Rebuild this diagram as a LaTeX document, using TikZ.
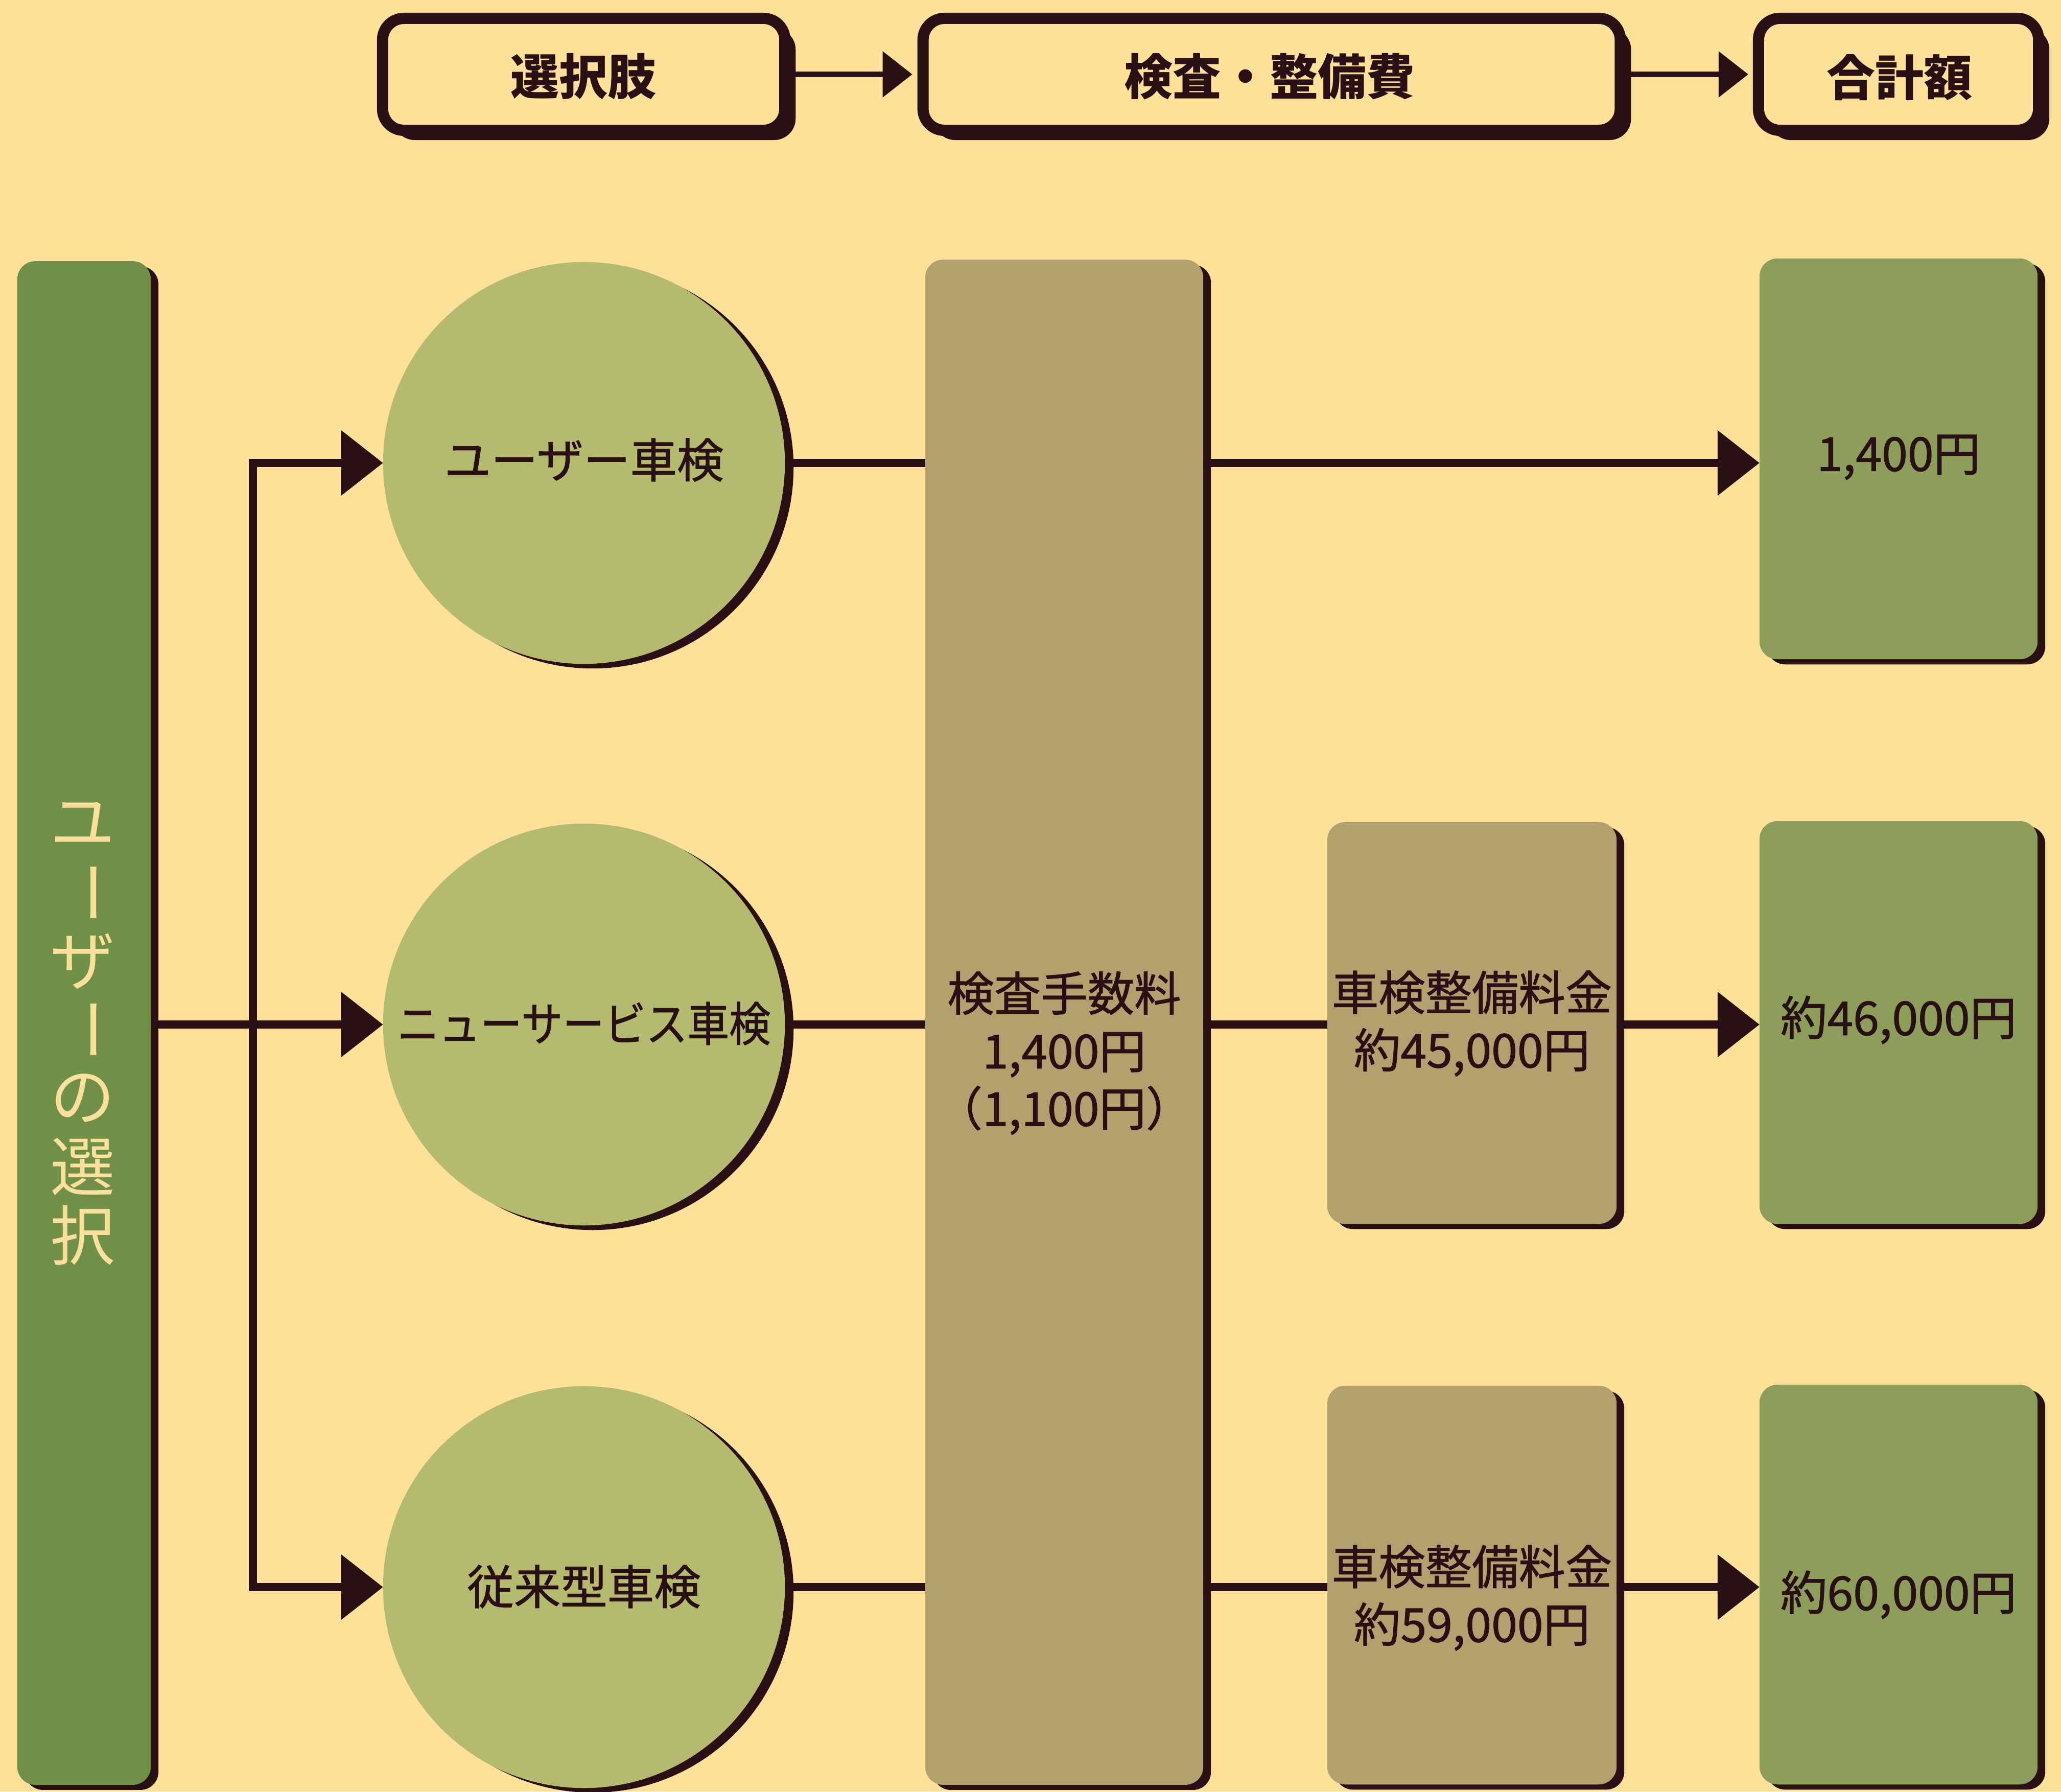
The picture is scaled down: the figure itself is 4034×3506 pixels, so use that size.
\documentclass[tikz,border=0pt]{standalone}
\usepackage{fontspec}
\setmainfont{Noto Sans CJK JP}
\newfontfamily\jpmed{Noto Sans CJK JP}[FakeBold=1.2]
\usetikzlibrary{arrows.meta,shadows}
\definecolor{bg}{RGB}{254,224,152}
\definecolor{dk}{RGB}{40,16,20}
\definecolor{barg}{RGB}{112,144,72}
\definecolor{circg}{RGB}{180,187,110}
\definecolor{feeC}{RGB}{178,161,110}
\definecolor{totg}{RGB}{141,158,90}
\definecolor{vtxt}{RGB}{250,224,156}
\tikzset{
  shadowed/.style={drop shadow={shadow xshift=0.15cm, shadow yshift=-0.1cm, fill=dk, opacity=1}},
  card/.style={rectangle, rounded corners=0.35cm, inner sep=0, outer sep=0, shadowed},
  hdr/.style={rectangle, rounded corners=0.42cm, draw=dk, line width=0.22cm, fill=bg,
    minimum height=2.19cm, inner sep=0, outer sep=0,
    drop shadow={shadow xshift=0.21cm, shadow yshift=-0.19cm, fill=dk, opacity=1}},
  choice/.style={circle, fill=circg, minimum size=7.86cm, inner sep=0, outer sep=0,
    drop shadow={shadow xshift=0.17cm, shadow yshift=-0.09cm, fill=dk, opacity=1}},
  conn/.style={draw=dk, line width=0.16cm},
  hconn/.style={draw=dk, line width=0.1cm},
  bigtip/.style={-{Triangle[length=0.82cm,width=1.24cm]}},
  bothtip/.style={{Triangle[length=0.82cm,width=1.24cm]}-{Triangle[length=0.82cm,width=1.24cm]}},
  smalltip/.style={-{Triangle[length=0.58cm,width=0.88cm]}},
  lbl/.style={text=dk, font=\jpmed\fontsize{26}{32}\selectfont, align=center, inner sep=0},
  hlbl/.style={text=dk, font=\fontsize{27}{32}\selectfont\bfseries, inner sep=0},
  vlbl/.style={text=vtxt, font=\fontsize{36}{36}\selectfont, inner sep=0},
}
\begin{document}
\begin{tikzpicture}[x=0.01cm, y=-0.01cm]
\fill[bg] (0,0) rectangle (4034,3506);
\useasboundingbox (0,0) rectangle (4034,3506);

% header boxes
\node[hdr, minimum width=7.87cm] (h1) at (1142.5,145.5) {};
\node[hdr, minimum width=13.64cm] (h2) at (2489,145.5) {};
\node[hdr, minimum width=5.48cm] (h3) at (3716,145.5) {};

% left bar
\node[card, fill=barg, minimum width=2.61cm, minimum height=29.8cm] (bar) at (164.5,2002) {};

% circles
\node[choice] (c1) at (1143,906) {};
\node[choice] (c2) at (1143,2005) {};
\node[choice] (c3) at (1143,3106) {};

% fee column and maintenance boxes
\node[card, fill=feeC, minimum width=5.44cm, minimum height=29.83cm] (fee) at (2083,2000.5) {};
\node[card, fill=feeC, minimum width=5.66cm, minimum height=7.86cm] (m2) at (2881,2002) {};
\node[card, fill=feeC, minimum width=5.66cm, minimum height=7.80cm] (m3) at (2881,3102) {};

% totals
\node[card, fill=totg, minimum width=5.44cm, minimum height=7.84cm] (t1) at (3716,898) {};
\node[card, fill=totg, minimum width=5.44cm, minimum height=7.88cm] (t2) at (3716,2001) {};
\node[card, fill=totg, minimum width=5.44cm, minimum height=7.82cm] (t3) at (3716,3101) {};

% connectors
\draw[hconn, smalltip, shorten >=0.21cm] (h1.east) -- (h2.west);
\draw[hconn, smalltip, shorten >=0.2cm] (h2.east) -- (h3.west);

\coordinate (j1) at (495,906);
\coordinate (j3) at (495,3106);
\draw[conn, bothtip] (c1.west) -- (j1) -- (j3) -- (c3.west);
\draw[conn, bigtip] (bar.east |- c2) -- (c2.west);

\draw[conn] (c1.east) -- (fee.west |- c1);
\draw[conn] (c2.east) -- (fee.west |- c2);
\draw[conn] (c3.east) -- (fee.west |- c3);
\draw[conn, bigtip] (fee.east |- c1) -- (t1.west |- c1);
\draw[conn] (fee.east |- c2) -- (m2.west |- c2);
\draw[conn, bigtip] (m2.east |- c2) -- (t2.west |- c2);
\draw[conn] (fee.east |- c3) -- (m3.west |- c3);
\draw[conn, bigtip] (m3.east |- c3) -- (t3.west |- c3);

% labels
\node[hlbl] (h1t) at (1142,150) {選択肢};
\node[hlbl] (h2t) at (2485,150) {検査・整備費};
\node[hlbl] (h3t) at (3718,152) {合計額};

\foreach \ch/\rot/\k in {ユ/0/0, ー/-90/1, ザ/0/2, ー/-90/3, の/0/4, 選/0/5, 択/0/6}
  \node[vlbl, rotate=\rot] (v\k) at (162,1613+134*\k) {\ch};

\node[lbl] (c1t) at (1143,900) {ユーザー車検};
\node[lbl] (c2t) at (1143,2003) {\scalebox{0.89}[1]{ニューサービス車検}};
\node[lbl] (c3t) at (1143,3105) {従来型車検};
\node[lbl] (feet) at (2083,2061) {検査手数料\\1,400円\\（1,100円）};
\node[lbl] (m2t) at (2881,2003) {車検整備料金\\約45,000円};
\node[lbl] (m3t) at (2881,3127) {車検整備料金\\約59,000円};
\node[lbl] (t1t) at (3716,895) {1,400円};
\node[lbl] (t2t) at (3716,1996) {約46,000円};
\node[lbl] (t3t) at (3716,3121) {約60,000円};
\end{tikzpicture}
\end{document}
